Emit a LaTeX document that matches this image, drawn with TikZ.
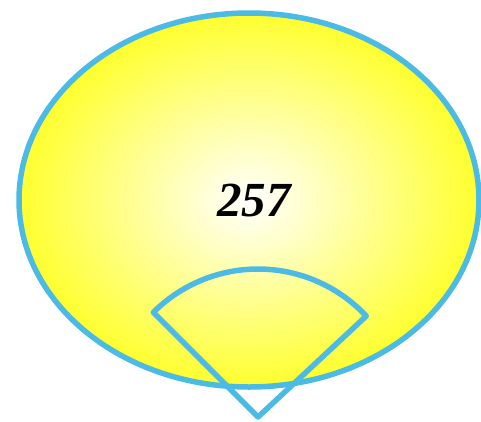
\documentclass[tikz,border=0pt]{standalone}
\usepackage{fontspec}
\setmainfont{Liberation Serif}
\definecolor{rimblue}{HTML}{4BBBE6}
\definecolor{sunyellow}{HTML}{FFFF2E}
\begin{document}
\begin{tikzpicture}[x=1pt,y=-1pt]
    \useasboundingbox (0,0) rectangle (481,421);
    % Disc
    \shade[inner color=white, outer color=sunyellow] (249,200) ellipse [x radius=230, y radius=187];
    \draw[rimblue, line width=5.5pt] (249,200) ellipse [x radius=230, y radius=187];
    \node (num) at (254,201) {\fontsize{49}{49}\selectfont\bfseries\itshape 257};
    % Sector
    \coordinate (apex) at (258,417);
    \draw[rimblue, line width=5.5pt, line join=round] (apex) -- ++(-43:148) arc[start angle=-43, end angle=-135, radius=148] -- cycle;
\end{tikzpicture}
\end{document}
